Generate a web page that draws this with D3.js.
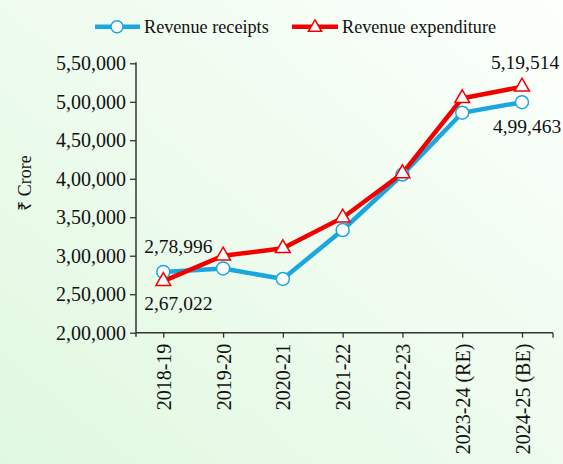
<!DOCTYPE html>
<html>
<head>
<meta charset="utf-8">
<script src="https://cdn.jsdelivr.net/npm/d3@7"></script>
<style>
  body { margin: 0; }
  svg { display: block; font-family: "Liberation Serif", "Times New Roman", serif; }
</style>
</head>
<body>
<svg id="chart"></svg>
<script>
const years = ["2018-19", "2019-20", "2020-21", "2021-22", "2022-23", "2023-24 (RE)", "2024-25 (BE)"];
const receipts = [278996, 283500, 269800, 333400, 405500, 485800, 499463];
const expenditure = [267022, 300000, 309600, 349400, 407000, 504500, 519514];
const yTicks = [200000, 250000, 300000, 350000, 400000, 450000, 500000, 550000];

const W = 563, H = 464;
const svg = d3.select("#chart").attr("width", W).attr("height", H);

// background
const defs = svg.append("defs");
const grad = defs.append("linearGradient").attr("id", "bg")
  .attr("x1", "100%").attr("y1", "0%").attr("x2", "0%").attr("y2", "100%");
grad.append("stop").attr("offset", "0%").attr("stop-color", "#fcfffc");
grad.append("stop").attr("offset", "100%").attr("stop-color", "#e0f8e0");
svg.append("rect").attr("width", W).attr("height", H).attr("fill", "url(#bg)");

// Indian number format: 5,50,000
function inr(v) {
  const s = String(v);
  if (s.length <= 3) return s;
  let head = s.slice(0, -3), tail = s.slice(-3);
  head = head.replace(/\B(?=(\d{2})+(?!\d))/g, ",");
  return head + "," + tail;
}

const plotL = 136, plotR = 553, plotT = 63.3, plotB = 332.7;
const fontSize = 20;

const x = d3.scalePoint().domain(years).range([163.3, 522]);
const y = d3.scaleLinear().domain([200000, 550000]).range([plotB, plotT]);

const axisColor = "#333";

// y axis
const gy = svg.append("g").attr("transform", `translate(${plotL},0)`)
  .call(d3.axisLeft(y).tickValues(yTicks).tickFormat(inr).tickSize(6).tickPadding(4));
gy.select(".domain").remove();
gy.selectAll(".tick line").attr("stroke", axisColor).attr("stroke-width", 1.3);
gy.selectAll(".tick text").attr("fill", "#111").attr("font-size", fontSize)
  .attr("font-family", "Liberation Serif");
svg.append("line").attr("x1", plotL).attr("x2", plotL).attr("y1", plotT - 1).attr("y2", plotB + 4)
  .attr("stroke", axisColor).attr("stroke-width", 1.5);

// x axis
const gx = svg.append("g").attr("transform", `translate(0,${plotB})`)
  .call(d3.axisBottom(x).tickSize(5).tickSizeOuter(0));
gx.select(".domain").remove();
gx.selectAll(".tick line").attr("stroke", axisColor).attr("stroke-width", 1.3);
gx.selectAll(".tick text")
  .attr("fill", "#111").attr("font-size", fontSize).attr("font-family", "Liberation Serif")
  .attr("transform", "rotate(-90)")
  .attr("text-anchor", "end")
  .attr("x", -11).attr("y", 0).attr("dy", "0.35em");
svg.append("line").attr("x1", plotL).attr("x2", plotR).attr("y1", plotB).attr("y2", plotB)
  .attr("stroke", axisColor).attr("stroke-width", 1.5);
svg.append("line").attr("x1", plotR).attr("x2", plotR).attr("y1", plotB).attr("y2", plotB + 5)
  .attr("stroke", axisColor).attr("stroke-width", 1.3);

// y axis title
svg.append("text")
  .attr("transform", "translate(31,183) rotate(-90)")
  .attr("text-anchor", "middle")
  .attr("font-size", 18).attr("fill", "#111")
  .text("₹ Crore");

const blue = "#1aa7e0", red = "#f20000";
const line = d3.line().x((d, i) => x(years[i])).y(d => y(d));

svg.append("path").datum(receipts).attr("d", line)
  .attr("fill", "none").attr("stroke", blue).attr("stroke-width", 4.5);
svg.append("path").datum(expenditure).attr("d", line)
  .attr("fill", "none").attr("stroke", red).attr("stroke-width", 4.5);

svg.append("g").selectAll("circle").data(receipts).join("circle")
  .attr("cx", (d, i) => x(years[i])).attr("cy", d => y(d)).attr("r", 6.5)
  .attr("fill", "#fff").attr("stroke", blue).attr("stroke-width", 1.5);

const tri = d3.symbol().type(d3.symbolTriangle).size(95);
svg.append("g").selectAll("path").data(expenditure).join("path")
  .attr("d", tri)
  .attr("transform", (d, i) => `translate(${x(years[i])},${y(d)})`)
  .attr("fill", "#fff").attr("stroke", red).attr("stroke-width", 1.5);

// data labels
const labels = [
  { i: 0, v: receipts[0], dx: 15, dy: -19 },
  { i: 0, v: expenditure[0], dx: 15, dy: 29 },
  { i: 6, v: expenditure[6], dx: 3, dy: -17.5 },
  { i: 6, v: receipts[6], dx: 5, dy: 31 }
];
svg.append("g").selectAll("text").data(labels).join("text")
  .attr("x", d => x(years[d.i]) + d.dx)
  .attr("y", d => y(d.v) + d.dy)
  .attr("text-anchor", "middle")
  .attr("font-size", 19.5).attr("fill", "#111")
  .text(d => inr(d.v));

// legend
const lg = svg.append("g");
lg.append("line").attr("x1", 95).attr("x2", 140).attr("y1", 26.7).attr("y2", 26.7)
  .attr("stroke", blue).attr("stroke-width", 4.5);
lg.append("circle").attr("cx", 117).attr("cy", 26.7).attr("r", 6)
  .attr("fill", "#fff").attr("stroke", blue).attr("stroke-width", 1.5);
lg.append("text").attr("x", 144).attr("y", 33).attr("font-size", 18.2).attr("fill", "#111")
  .text("Revenue receipts");
lg.append("line").attr("x1", 292).attr("x2", 338).attr("y1", 26.7).attr("y2", 26.7)
  .attr("stroke", red).attr("stroke-width", 4.5);
lg.append("path").attr("d", d3.symbol().type(d3.symbolTriangle).size(75))
  .attr("transform", "translate(315,27.5)")
  .attr("fill", "#fff").attr("stroke", red).attr("stroke-width", 1.5);
lg.append("text").attr("x", 342).attr("y", 33).attr("font-size", 18.2).attr("fill", "#111")
  .text("Revenue expenditure");
</script>
</body>
</html>
